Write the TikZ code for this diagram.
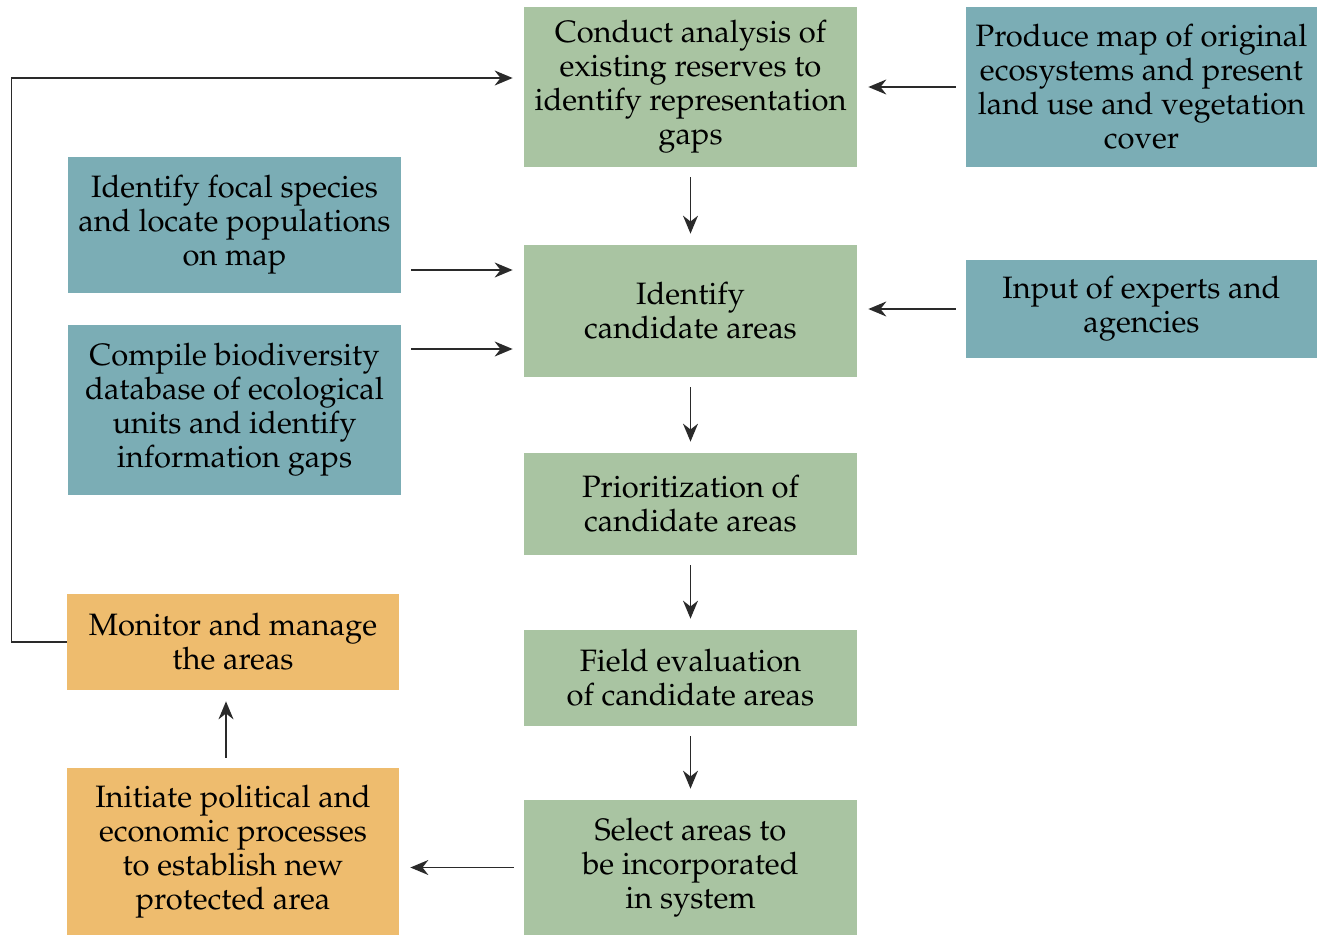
\documentclass[tikz,border=0pt]{standalone}
\usepackage[T1]{fontenc}
\usepackage{mathpazo}
\usetikzlibrary{positioning,arrows.meta,calc}

\definecolor{stagegreen}{HTML}{A9C4A2}
\definecolor{inputblue}{HTML}{7BADB5}
\definecolor{actorange}{HTML}{EEBC6E}
\definecolor{linegray}{HTML}{2A2A2A}

\begin{document}
\begin{tikzpicture}[
  >={Stealth[length=3.6mm, width=3mm]},
  stage/.style={inner sep=0pt, align=center, font=\fontsize{17.6}{19.4}\selectfont},
  greenbox/.style={stage, fill=stagegreen, minimum width=6.66cm},
  bluebox/.style={stage, fill=inputblue},
  orangebox/.style={stage, fill=actorange, minimum width=6.64cm},
  flow/.style={->, draw=linegray, line width=0.9pt, shorten >=2.2mm, shorten <=2mm}
]
\useasboundingbox (0,0) rectangle (26.34,-18.7);

% ---------- centre column ----------
\node[greenbox, minimum height=3.2cm] (G1) at (13.81,-1.74)
  {Conduct analysis of\\existing reserves to\\identify representation\\gaps};
\node[greenbox, minimum height=2.64cm] (G2) at (13.81,-6.22)
  {Identify\\candidate areas};
\node[greenbox, minimum height=2.04cm] (G3) at (13.81,-10.08)
  {Prioritization of\\candidate areas};
\node[greenbox, minimum height=1.92cm] (G4) at (13.81,-13.56)
  {Field evaluation\\of candidate areas};
\node[greenbox, minimum height=2.7cm] (G5) at (13.81,-17.35)
  {Select areas to\\be incorporated\\in system};

% ---------- inputs ----------
\node[bluebox, minimum width=7.02cm, minimum height=3.2cm] (B1) at (22.83,-1.74)
  {Produce map of original\\ecosystems and present\\land use and vegetation\\cover};
\node[bluebox, minimum width=7.02cm, minimum height=1.96cm] (B2) at (22.83,-6.18)
  {Input of experts and\\agencies};
\node[bluebox, minimum width=6.66cm, minimum height=2.72cm] (B3) at (4.69,-4.5)
  {Identify focal species\\and locate populations\\on map};
\node[bluebox, minimum width=6.66cm, minimum height=3.4cm] (B4) at (4.69,-8.2)
  {Compile biodiversity\\database of ecological\\units and identify\\information gaps};

% ---------- actions ----------
\node[orangebox, minimum height=1.92cm] (O1) at (4.66,-12.84)
  {Monitor and manage\\the areas};
\node[orangebox, minimum height=3.34cm] (O2) at (4.66,-17.03)
  {Initiate political and\\economic processes\\to establish new\\protected area};

% ---------- arrows ----------
\draw[flow] (B1.west) -- (B1.west -| G1.east);
\draw[flow] (G1) -- (G2);
\draw[flow] (G2) -- (G3);
\draw[flow] (G3) -- (G4);
\draw[flow] (G4) -- (G5);
\draw[flow] ([yshift=-0.9cm]B3.east) -- ([yshift=-0.9cm]B3.east -| G2.west);
\draw[flow] ([yshift=1.22cm]B4.east) -- ([yshift=1.22cm]B4.east -| G2.west);
\draw[flow] (B2.west) -- (B2.west -| G2.east);
\draw[flow] (G5.west) -- (G5.west -| O2.east);
\draw[flow] ([xshift=-1.4mm]O2.north) -- ([xshift=-1.4mm]O1.south);
\draw[flow, shorten <=0pt] (O1.west) -- ++(-1.1,0) |- ([yshift=0.18cm]G1.west);
\end{tikzpicture}
\end{document}
